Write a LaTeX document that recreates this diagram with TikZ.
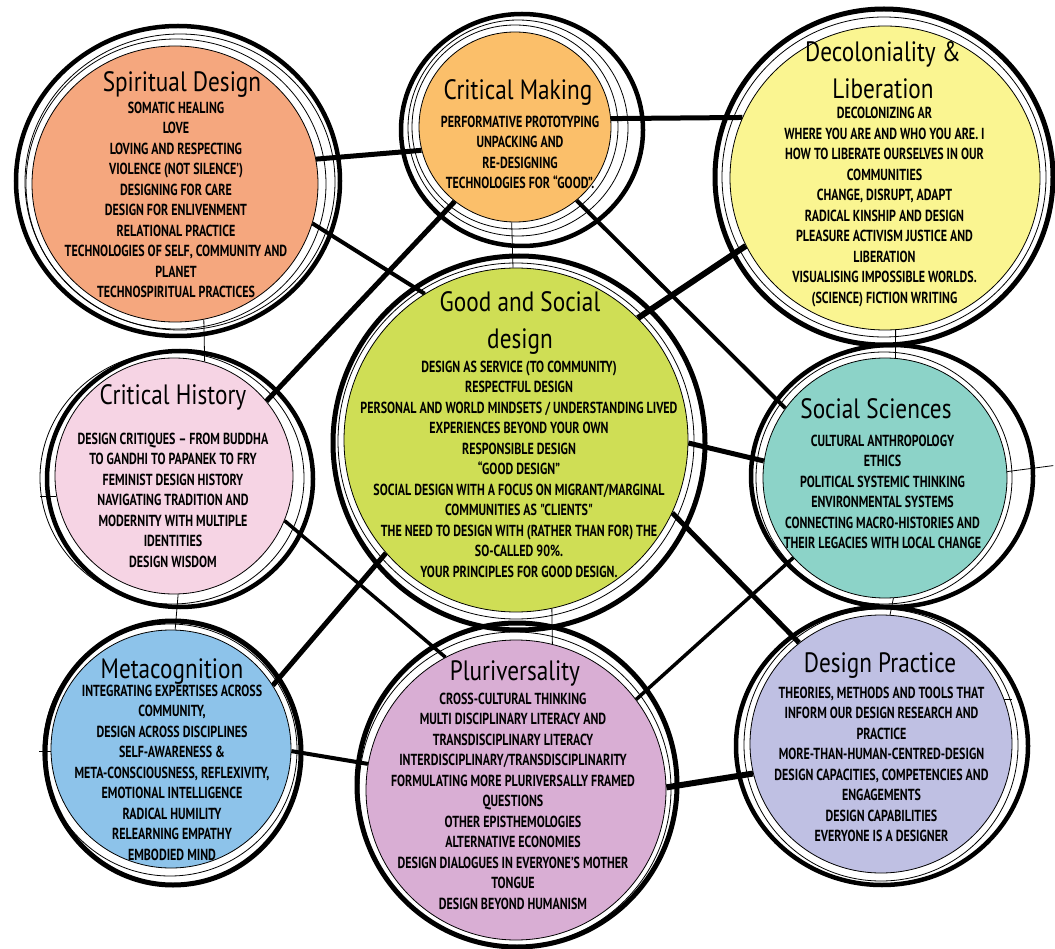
\documentclass[tikz,border=0pt]{standalone}
\usepackage{fontspec}
\newfontfamily\titlefont[FakeStretch=0.83]{PT Sans}
\newfontfamily\bodyfont[FakeStretch=0.75,UprightFont=* Bold]{PT Sans}
\usetikzlibrary{positioning,shapes.geometric}
\pgfdeclarelayer{bg}
\pgfsetlayers{bg,main}

\definecolor{sdfill}{RGB}{245,167,126}
\definecolor{cmfill}{RGB}{251,191,106}
\definecolor{dlfill}{RGB}{250,245,145}
\definecolor{gsfill}{RGB}{207,222,85}
\definecolor{chfill}{RGB}{246,212,228}
\definecolor{ssfill}{RGB}{140,211,200}
\definecolor{mcfill}{RGB}{141,195,234}
\definecolor{plfill}{RGB}{217,174,212}
\definecolor{dpfill}{RGB}{191,192,227}

\begin{document}
\begin{tikzpicture}[x=1pt, y=-1pt,
    bubble/.style={ellipse, draw=black, line width=0.8pt, inner sep=0pt},
    head/.style={font=\titlefont\fontsize{28}{37}\selectfont, align=center, inner sep=0pt},
    body/.style={font=\bodyfont\fontsize{16}{20.5}\selectfont, align=center, inner sep=0pt, anchor=north},
    link/.style={line width=5pt},
    tie/.style={line width=0.8pt},
    ring/.style={line width=0.8pt},
    rim/.style={line width=4.5pt}]
\useasboundingbox (0,0) rectangle (1055,949);

\node[bubble, fill=sdfill, minimum width=286pt, minimum height=276pt] (sd) at (175,184) {};
\node[bubble, fill=cmfill, minimum width=192pt, minimum height=190pt] (cm) at (515,127) {};
\node[bubble, fill=dlfill, minimum width=310pt, minimum height=304pt] (dl) at (885,178) {};
\node[bubble, fill=gsfill, minimum width=344pt, minimum height=344pt] (gs) at (516,440) {};
\node[bubble, fill=chfill, minimum width=238pt, minimum height=236pt] (ch) at (174,476) {};
\node[bubble, fill=ssfill, minimum width=244pt, minimum height=240pt] (ss) at (885,478) {};
\node[bubble, fill=mcfill, minimum width=240pt, minimum height=238pt] (mc) at (171,749) {};
\node[bubble, fill=plfill, minimum width=300pt, minimum height=300pt] (pl) at (516,790) {};
\node[bubble, fill=dpfill, minimum width=262pt, minimum height=258pt] (dp) at (881,744) {};

\coordinate[left=16pt of ch.190] (chend);
\coordinate[left=12pt of mc.181] (mcend);
\coordinate[above right=6pt and 46pt of ss.3] (ssend);
\coordinate[right=8pt of dp.20] (dpend);

\begin{pgfonlayer}{bg}
\draw[link] (sd.10) -- (cm.194);
\draw[link] (cm.5) -- (dl.157);
\draw[link, line width=4pt] (sd.-16) -- (gs.122);
\draw[link] (cm.-129) -- (ch.39);
\draw[link, line width=4pt] (cm.-50) -- (ss.145);
\draw[link, line width=6pt] (dl.206) -- (gs.45);
\draw[link] (gs.-1) -- (ss.172);
\draw[link, line width=3.5pt] (ch.-22) -- (pl.118);
\draw[link] (gs.221) -- (mc.32);
\draw[link] (gs.-25) -- (dp.129);
\draw[link, line width=3.5pt] (ss.221) -- (pl.37);
\draw[link, line width=4pt] (mc.-1) -- (pl.170);
\draw[link, line width=6pt] (pl.1) -- (dp.193);
%\draw[link] (sd) -- (gs);

\draw[tie] (sd.-78) -- (ch.75);
\draw[tie] (cm.-92) -- (gs.91);
\draw[tie] (dl.-86) -- (ss.85);
\draw[tie] (ch.-88) -- (mc.88);
\draw[tie] (gs.-78) -- (pl.76);
\draw[tie] (ss.-86) -- (dp.86);
\draw[tie] (ch.190) -- (chend);
\draw[tie] (mc.181) -- (mcend);
\draw[tie] (ss.3) -- (ssend);
\draw[tie] (dp.20) -- (dpend);

\draw[ring] ([shift={(1,0)}]sd.center) ellipse [x radius=150, y radius=145];
\draw[ring] ([shift={(5,-2)}]sd.center) ellipse [x radius=155, y radius=148];
\draw[rim] ([shift={(3,-3)}]sd.center) ellipse [x radius=162, y radius=155];
\draw[ring] (cm.center) ellipse [x radius=103, y radius=102];
\draw[ring] ([shift={(3,1)}]cm.center) ellipse [x radius=110, y radius=108];
\draw[rim] ([shift={(7,3)}]cm.center) ellipse [x radius=121, y radius=116];
\draw[ring] ([shift={(-1,-1)}]dl.center) ellipse [x radius=162, y radius=160];
\draw[rim, line width=5pt] ([shift={(-1,-1)}]dl.center) ellipse [x radius=169, y radius=168];
\draw[ring] ([shift={(0,1)}]gs.center) ellipse [x radius=178, y radius=178];
\draw[rim, line width=5pt] ([shift={(3,3)}]gs.center) ellipse [x radius=186, y radius=187];
\draw[ring] ([shift={(-2,2)}]ch.center) ellipse [x radius=132, y radius=126];
\draw[rim] ([shift={(6,3)}]ch.center) ellipse [x radius=133, y radius=128];
\draw[ring] ([shift={(-1,0)}]ss.center) ellipse [x radius=128, y radius=126];
\draw[rim] ([shift={(7,-2)}]ss.center) ellipse [x radius=141, y radius=131];
\draw[ring] ([shift={(-1,1)}]mc.center) ellipse [x radius=127, y radius=126];
\draw[rim, line width=5pt] ([shift={(2,4)}]mc.center) ellipse [x radius=128, y radius=132];
\draw[ring] ([shift={(-1,-1)}]pl.center) ellipse [x radius=156, y radius=157];
\draw[rim, line width=5pt] ([shift={(1,-5)}]pl.center) ellipse [x radius=160, y radius=162];
\draw[ring] ([shift={(0,1)}]dp.center) ellipse [x radius=137, y radius=136];
\draw[rim] ([shift={(1,2)}]dp.center) ellipse [x radius=146, y radius=139];
\end{pgfonlayer}

\node[head, anchor=base] (sdhead) at (182,92) {Spiritual Design};
\node[body] (sdtext) at (176,101.5) {SOMATIC HEALING\\ LOVE\\ LOVING AND RESPECTING\\ VIOLENCE (NOT SILENCE’)\\ DESIGNING FOR CARE\\ DESIGN FOR ENLIVENMENT\\ RELATIONAL PRACTICE\\ TECHNOLOGIES OF SELF, COMMUNITY AND\\ PLANET\\ TECHNOSPIRITUAL PRACTICES};

\node[head, anchor=base] (cmhead) at (518,100) {Critical Making};
\node[body] (cmtext) at (520,115.5) {PERFORMATIVE PROTOTYPING\\ UNPACKING AND\\ RE-DESIGNING\\ TECHNOLOGIES FOR “GOOD”.};

\node[head, anchor=north] (dlhead) at (883,41) {Decoloniality \&\\ Liberation};
\node[body] (dltext) at (884.5,107) {DECOLONIZING AR\\ WHERE YOU ARE AND WHO YOU ARE. I\\ HOW TO LIBERATE OURSELVES IN OUR\\ COMMUNITIES\\ CHANGE, DISRUPT, ADAPT\\ RADICAL KINSHIP AND DESIGN\\ PLEASURE ACTIVISM JUSTICE AND\\ LIBERATION\\ VISUALISING IMPOSSIBLE WORLDS.\\ (SCIENCE) FICTION WRITING};

\node[head, anchor=north] (gshead) at (520,291) {Good and Social\\ design};
\node[body] (gstext) at (519,360.5) {DESIGN AS SERVICE (TO COMMUNITY)\\ RESPECTFUL DESIGN\\ PERSONAL AND WORLD MINDSETS / UNDERSTANDING LIVED\\ EXPERIENCES BEYOND YOUR OWN\\ RESPONSIBLE DESIGN\\ “GOOD DESIGN”\\ SOCIAL DESIGN WITH A FOCUS ON MIGRANT/MARGINAL\\ COMMUNITIES AS "CLIENTS"\\ THE NEED TO DESIGN WITH (RATHER THAN FOR) THE\\ SO-CALLED 90\%.\\ YOUR PRINCIPLES FOR GOOD DESIGN.};

\node[head, anchor=base] (chhead) at (173,405) {Critical History};
\node[body] (chtext) at (173,432.5) {DESIGN CRITIQUES – FROM BUDDHA\\ TO GANDHI TO PAPANEK TO FRY\\ FEMINIST DESIGN HISTORY\\ NAVIGATING TRADITION AND\\ MODERNITY WITH MULTIPLE\\ IDENTITIES\\ DESIGN WISDOM};

\node[head, anchor=base] (sshead) at (876,418) {Social Sciences};
\node[body] (sstext) at (882.5,434.5) {CULTURAL ANTHROPOLOGY\\ ETHICS\\ POLITICAL SYSTEMIC THINKING\\ ENVIRONMENTAL SYSTEMS\\ CONNECTING MACRO-HISTORIES AND\\ THEIR LEGACIES WITH LOCAL CHANGE};

\node[head, anchor=base] (mchead) at (172,678) {Metacognition};
\node[body] (mctext) at (172,684.5) {INTEGRATING EXPERTISES ACROSS\\ COMMUNITY,\\ DESIGN ACROSS DISCIPLINES\\ SELF-AWARENESS \&\\ META-CONSCIOUSNESS, REFLEXIVITY,\\ EMOTIONAL INTELLIGENCE\\ RADICAL HUMILITY\\ RELEARNING EMPATHY\\ EMBODIED MIND};

\node[head, anchor=base] (plhead) at (515,680) {Pluriversality};
\node[body] (pltext) at (513,692.5) {CROSS-CULTURAL THINKING\\ MULTI DISCIPLINARY LITERACY AND\\ TRANSDISCIPLINARY LITERACY\\ INTERDISCIPLINARY/TRANSDISCIPLINARITY\\ FORMULATING MORE PLURIVERSALLY FRAMED\\ QUESTIONS\\ OTHER EPISTHEMOLOGIES\\ ALTERNATIVE ECONOMIES\\ DESIGN DIALOGUES IN EVERYONE’S MOTHER\\ TONGUE\\ DESIGN BEYOND HUMANISM};

\node[head, anchor=base] (dphead) at (880,672) {Design Practice};
\node[body] (dptext) at (881.5,686.5) {THEORIES, METHODS AND TOOLS THAT\\ INFORM OUR DESIGN RESEARCH AND\\ PRACTICE\\ MORE-THAN-HUMAN-CENTRED-DESIGN\\ DESIGN CAPACITIES, COMPETENCIES AND\\ ENGAGEMENTS\\ DESIGN CAPABILITIES\\ EVERYONE IS A DESIGNER};
\end{tikzpicture}
\end{document}
